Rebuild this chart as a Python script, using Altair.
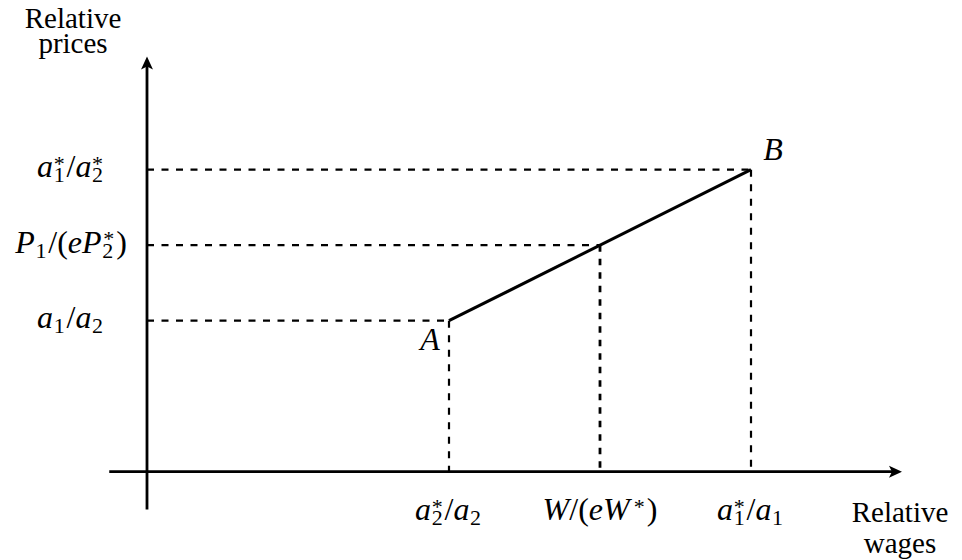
import altair as alt
import pandas as pd

# ---------------- values (diagram units) ----------------
x_marks = [2, 3, 4]                                   # positions on the wage axis
x_mark_labels = ["a_2^*/a_2", "W/(eW^*)", "a_1^*/a_1"]
y_marks = [2, 1.5, 1]                                 # positions on the price axis
y_mark_labels = ["a_1^*/a_2^*", "P_1/(eP_2^*)", "a_1/a_2"]
guide_x = [2, 3, 4]                                   # points on the schedule
guide_y = [1, 1.5, 2]
curve_x = [2, 4]                                      # A -> B
curve_y = [1, 2]
point_names = ["A", "B"]
x_axis_extent = [-0.25, 5.0]
y_axis_extent = [-0.25, 2.75]
x_title_lines = ["Relative", "wages"]
y_title_lines = ["Relative", "prices"]

# ---------------- layout constants ----------------
W, H = 946, 552
U = 151.0                    # pixels per diagram unit
ORIGIN = (147.0, 471.7)      # page pixel position of (0, 0)
X0 = -(ORIGIN[0] - 8) / U
X1 = X0 + W / U
Y1 = (ORIGIN[1] - 8) / U
Y0 = Y1 - H / U

FONT = "Liberation Serif"
MATH_FS, SCRIPT_FS, WORD_FS = 32, 22, 29
SUB_DY, SUP_DY = 5.0, -6.5


def px_x(px):
    return (px - ORIGIN[0]) / U


def px_y(py):
    return (ORIGIN[1] - py) / U


xscale = alt.Scale(domain=[X0, X1], nice=False, zero=False)
yscale = alt.Scale(domain=[Y0, Y1], nice=False, zero=False)


def X(f):
    return alt.X(f, type="quantitative", scale=xscale, axis=None)


def Y(f):
    return alt.Y(f, type="quantitative", scale=yscale, axis=None)


# ---------------- simple math-text layout ----------------
ADV_RM = {"/": 0.278, "(": 0.333, ")": 0.333, "1": 0.5, "2": 0.5, "*": 0.5}
ADV_IT = {"a": 0.5, "e": 0.444, "P": 0.611, "W": 0.833, "A": 0.611, "B": 0.611}
ITCORR = {"W": 0.11, "P": 0.03}


def parse(markup):
    toks, i = [], 0
    while i < len(markup):
        c = markup[i]
        if c in "_^":
            toks.append(("sub" if c == "_" else "sup", markup[i + 1]))
            i += 2
        else:
            toks.append(("it" if c.isalpha() else "rm", c))
            i += 1
    return toks


def layout(markup):
    toks = parse(markup)
    pieces, cur, last, i = [], 0.0, None, 0
    while i < len(toks):
        kind, ch = toks[i]
        if kind in ("it", "rm"):
            pieces.append({"text": ch, "style": "italic" if kind == "it" else "normal",
                           "size": MATH_FS, "dx": cur, "dy": 0.0})
            cur += (ADV_IT if kind == "it" else ADV_RM)[ch] * MATH_FS
            last = (kind, ch)
            i += 1
        else:
            width = 0.0
            start = cur + 0.02 * MATH_FS
            while i < len(toks) and toks[i][0] in ("sub", "sup"):
                k, ch = toks[i]
                shift = 0.0
                if k == "sup" and last and last[0] == "it":
                    shift = ITCORR.get(last[1], 0.0) * MATH_FS
                pieces.append({"text": ch, "style": "normal", "size": SCRIPT_FS,
                               "dx": start + shift, "dy": SUB_DY if k == "sub" else SUP_DY})
                width = max(width, shift + ADV_RM[ch] * SCRIPT_FS)
                i += 1
            cur = start + width + 0.06 * MATH_FS
            last = ("script", None)
    return pieces, cur


text_rows = []


def place(markup, ax, ay, off_px, base_px):
    pieces, total = layout(markup)
    for p in pieces:
        text_rows.append({
            "x": ax + (off_px - total / 2 + p["dx"]) / U,
            "y": ay - (base_px + p["dy"]) / U,
            "text": p["text"], "style": p["style"], "size": p["size"],
        })


for lab, yv in zip(y_mark_labels, y_marks):
    place(lab, px_x(71), yv, 0, 7.5)
for lab, xv in zip(x_mark_labels, x_marks):
    place(lab, xv, 0, 0, 48.5)
place(point_names[0], curve_x[0], curve_y[0], -19, 29)
place(point_names[1], curve_x[1], curve_y[1], 22, -10)

tdf = pd.DataFrame(text_rows)

words = pd.DataFrame({
    "x": [px_x(73), px_x(73), px_x(900), px_x(900)],
    "y": [px_y(28), px_y(53), px_y(522), px_y(553)],
    "text": y_title_lines + x_title_lines,
})

# ---------------- line segments ----------------
segs = []
for gx, gy in zip(guide_x, guide_y):
    segs.append({"x": 0, "y": gy, "x2": gx, "y2": gy, "kind": "dash"})
    segs.append({"x": gx, "y": gy, "x2": gx, "y2": 0,
                 "kind": "dashbold" if gx == 3 else "dash"})
segs.append({"x": curve_x[0], "y": curve_y[0], "x2": curve_x[1], "y2": curve_y[1], "kind": "solid"})
segs.append({"x": x_axis_extent[0], "y": 0, "x2": x_axis_extent[1] - 0.04, "y2": 0, "kind": "axis"})
segs.append({"x": 0, "y": y_axis_extent[0], "x2": 0, "y2": y_axis_extent[1] - 0.04, "kind": "axis"})
sdf = pd.DataFrame(segs)


def rule_layer(kind, **style):
    return alt.Chart(sdf).transform_filter(alt.datum.kind == kind).mark_rule(
        color="black", **style
    ).encode(x=X("x"), y=Y("y"), x2=alt.X2("x2"), y2=alt.Y2("y2"))


dash = rule_layer("dash", strokeWidth=2.2, strokeDash=[7, 7.5])
dashbold = rule_layer("dashbold", strokeWidth=2.8, strokeDash=[6.5, 7])
solid = rule_layer("solid", strokeWidth=3)
axes = rule_layer("axis", strokeWidth=2.8)

tips_x = pd.DataFrame({"x": [x_axis_extent[1]], "y": [0]})
tips_y = pd.DataFrame({"x": [0], "y": [y_axis_extent[1]]})
arrow_right = "M0,0L-2,-0.92L-1.55,0L-2,0.92Z"
arrow_up = "M0,0L-0.92,2L0,1.55L0.92,2Z"
head_x = alt.Chart(tips_x).mark_point(shape=arrow_right, size=169, filled=True, color="black",
                                      opacity=1, strokeWidth=0).encode(x=X("x"), y=Y("y"))
head_y = alt.Chart(tips_y).mark_point(shape=arrow_up, size=169, filled=True, color="black",
                                      opacity=1, strokeWidth=0).encode(x=X("x"), y=Y("y"))


def text_layer(style):
    return alt.Chart(tdf).transform_filter(alt.datum.style == style).mark_text(
        align="left", baseline="alphabetic", font=FONT, fontStyle=style, color="black"
    ).encode(x=X("x"), y=Y("y"), text="text:N", size=alt.Size("size:Q", scale=None))


word_layer = alt.Chart(words).mark_text(
    align="center", baseline="alphabetic", font=FONT, fontSize=WORD_FS, color="black"
).encode(x=X("x"), y=Y("y"), text="text:N")

chart = alt.layer(
    dash, dashbold, solid, axes, head_x, head_y,
    text_layer("italic"), text_layer("normal"), word_layer,
).properties(
    width=W, height=H, padding=0, background="white",
    autosize=alt.AutoSizeParams(type="none"),
).configure_view(stroke=None)

chart.save("out.html", embed_options={"renderer": "svg", "actions": False})
